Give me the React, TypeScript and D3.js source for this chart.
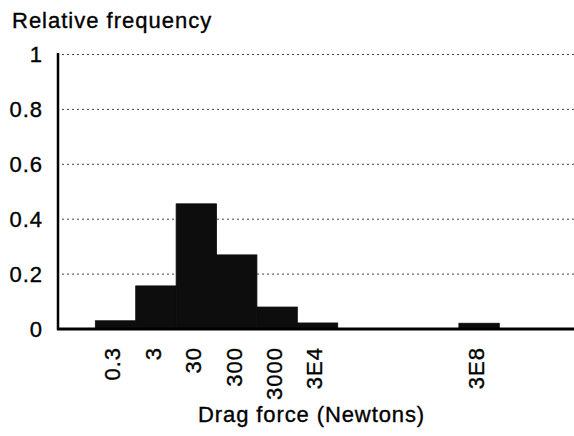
import React from "react";
import * as d3 from "d3";

const categories: number[] = [0.3, 3, 30, 300, 3000, 3e4, 3e8];
const tickLabels: string[] = ["0.3", "3", "30", "300", "3000", "3E4", "3E8"];
const frequencies: number[] = [0.03, 0.157, 0.456, 0.27, 0.08, 0.022, 0.021];
const yTicks: number[] = [0, 0.2, 0.4, 0.6, 0.8, 1];
const yTickLabels: string[] = ["0", "0.2", "0.4", "0.6", "0.8", "1"];

const W = 574;
const H = 436;
const FONT = "'Liberation Sans', Arial, Helvetica, sans-serif";

export default function App() {
  const x = d3.scaleLog().domain([0.0113, 6.7e10]).range([58, 574]);
  const y = d3.scaleLinear().domain([0, 1]).range([329, 54.5]);
  const half = Math.sqrt(10);
  const textStyle = { stroke: "#000", strokeWidth: 0.35 } as const;

  return (
    <svg
      width={W}
      height={H}
      style={{ position: "fixed", left: 0, top: 0, background: "#fff" }}
      fontFamily={FONT}
    >
      <rect x={0} y={0} width={W} height={H} fill="#fff" />
      {/* gridlines */}
      {yTicks.filter((t) => t > 0).map((t) => (
        <line
          key={"g" + t}
          x1={62}
          x2={W}
          y1={y(t)}
          y2={y(t)}
          stroke="#444"
          strokeWidth={1}
          strokeDasharray="2 3"
        />
      ))}
      {/* bars */}
      {categories.map((c, i) => (
        <rect
          key={"b" + i}
          x={x(c / half)}
          y={y(frequencies[i])}
          width={x(c * half) - x(c / half)}
          height={y(0) - y(frequencies[i])}
          fill="#0d0d0d"
          stroke="#0d0d0d"
          strokeWidth={0.8}
        />
      ))}
      {/* axes */}
      <line x1={58} x2={58} y1={53} y2={330} stroke="#000" strokeWidth={2.5} />
      <line x1={57} x2={W} y1={329} y2={329} stroke="#000" strokeWidth={3} />
      {/* y tick labels */}
      {yTicks.map((t, i) => (
        <text
          key={"yl" + t}
          x={43}
          y={y(t)}
          dy="0.36em"
          textAnchor="end"
          fontSize={22}
          letterSpacing={1}
          fill="#000"
          style={textStyle}
        >
          {yTickLabels[i]}
        </text>
      ))}
      {/* x tick labels */}
      {categories.map((c, i) => (
        <text
          key={"xl" + i}
          transform={`translate(${x(c) - 3},347) rotate(-90)`}
          dy="0.36em"
          textAnchor="end"
          fontSize={22}
          letterSpacing={1}
          fill="#000"
          style={textStyle}
        >
          {tickLabels[i]}
        </text>
      ))}
      <text x={12} y={28} fontSize={22} letterSpacing={1} fill="#000" style={textStyle}>
        Relative frequency
      </text>
      <text x={198} y={422} fontSize={22} letterSpacing={0.9} fill="#000" style={textStyle}>
        Drag force (Newtons)
      </text>
    </svg>
  );
}
